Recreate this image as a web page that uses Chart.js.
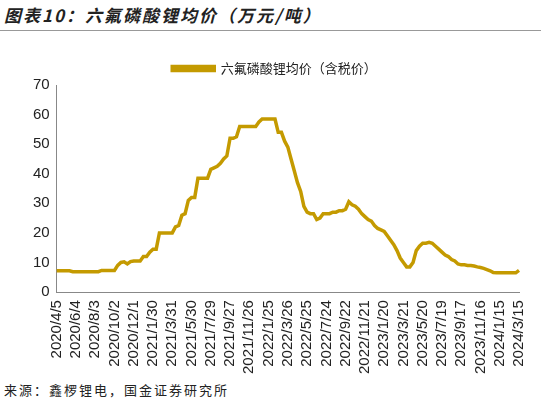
<!DOCTYPE html>
<html>
<head>
<meta charset="utf-8">
<script src="https://cdn.jsdelivr.net/npm/chart.js@4"></script>
<style>
  body { margin: 0; width: 541px; height: 403px; background: #fff; font-family: "Noto Sans CJK SC", sans-serif; position: relative; overflow: hidden; }
  #title { position: absolute; left: 4px; top: 2px; font-size: 17px; font-weight: bold; font-style: italic; color: #222; letter-spacing: 2px; }
  #rule { position: absolute; left: 0; top: 30px; width: 541px; height: 1px; background: #999; }
  #box { position: absolute; left: 0; top: 44px; width: 541px; height: 333px; }
  #src { position: absolute; left: 4px; top: 380px; font-size: 13px; color: #222; letter-spacing: 2px; }
</style>
</head>
<body>
<div id="title">图表10：六氟磷酸锂均价（万元/吨）</div>
<div id="rule"></div>
<div id="box"><canvas id="myChart"></canvas></div>
<div id="src">来源：鑫椤锂电，国金证券研究所</div>
<script>
// 10-day sampled prices
var prices = [
  7.2,7.2,7.2,7.2,7.2,6.9,
  6.9,6.9,6.9,6.9,6.9,6.9,
  6.9,6.9,7.3,7.3,7.3,7.3,
  7.3,9,10,10.2,9.5,10.3,
  10.5,10.5,10.5,12,12,13.5,
  14.5,14.5,20,20,20,20,
  20,22,22.5,26,26.5,31,
  32,32,38.5,38.5,38.5,38.5,
  41.5,42,42.5,43.5,45,46,
  52,52,52.5,56,56,56,
  56,56,56,57.5,58.5,58.5,
  58.5,58.5,58.5,54,54,51,
  49,45,41,37,34,29,
  27,26.5,26.5,24.5,25,26.5,
  26.5,26.5,27,27,27.5,27.5,
  28,30.5,29.5,29,28,26.5,
  25.5,24.5,24,22.5,21.5,21,
  20.5,19,17.5,16,14,11.5,
  10,8.5,8.5,10,14,15.5,
  16.5,16.5,16.8,16.5,15.5,14.5,
  13.5,12.5,12,11,10.5,9.5,
  9.2,9.2,9,9,8.8,8.5,
  8.3,8,7.6,7.2,6.6,6.5,
  6.5,6.5,6.5,6.5,6.5,6.5,
  7.3
];
var tickLabels = ["2020/4/5","2020/6/4","2020/8/3","2020/10/2","2020/12/1","2021/1/30","2021/3/31","2021/5/30","2021/7/29","2021/9/27","2021/11/26","2022/1/25","2022/3/26","2022/5/25","2022/7/24","2022/9/22","2022/11/21","2023/1/20","2023/3/21","2023/5/20","2023/7/19","2023/9/17","2023/11/16","2024/1/15","2024/3/15"];
var seriesName = "六氟磷酸锂均价（含税价）";

var labels = [];
for (var i = 0; i < prices.length; i++) {
  labels.push(i % 6 == 0 ? tickLabels[i / 6] : "");
}

var ctx = document.getElementById("myChart").getContext("2d");
var myChart = new Chart(ctx, {
  type: "line",
  data: {
    labels: labels,
    datasets: [{
      label: seriesName,
      data: prices,
      borderColor: "#C49A00",
      backgroundColor: "#C49A00",
      borderWidth: 3.5,
      pointRadius: 0,
      tension: 0
    }]
  },
  options: {
    responsive: true,
    maintainAspectRatio: false,
    animation: false,
    layout: { padding: { left: 30, right: 22, top: 0 } },
    plugins: {
      legend: {
        labels: {
          font: { size: 13, family: "Noto Sans CJK SC" },
          color: "#222",
          boxWidth: 42,
          boxHeight: 4,
          padding: 18
        }
      },
      tooltip: { enabled: false }
    },
    scales: {
      x: {
        grid: { display: false, drawTicks: true, tickLength: 5 },
        border: { color: "#888" },
        ticks: {
          autoSkip: false,
          maxRotation: 90,
          minRotation: 90,
          color: "#222",
          font: { size: 15, family: "Liberation Sans" },
          callback: function (v, i) { return labels[i]; }
        }
      },
      y: {
        min: 0, max: 70,
        grid: { display: false, drawTicks: true, tickLength: 4 },
        border: { color: "#888" },
        ticks: { stepSize: 10, color: "#222", font: { size: 15, family: "Liberation Sans" } }
      }
    }
  }
});
</script>
</body>
</html>
